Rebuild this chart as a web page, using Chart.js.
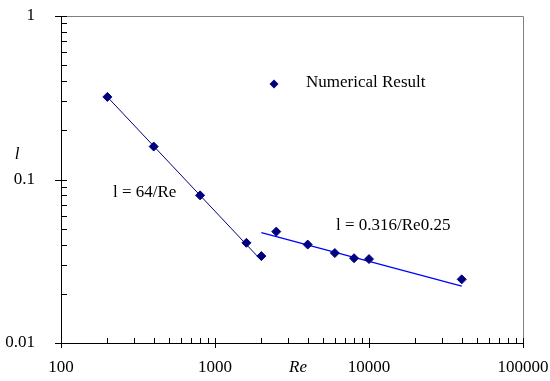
<!DOCTYPE html>
<html>
<head>
<meta charset="utf-8">
<script src="https://cdn.jsdelivr.net/npm/chart.js@4"></script>
<style>
  html, body { margin: 0; padding: 0; background: #fff; }
  #wrap { width: 550px; height: 381px; }
</style>
</head>
<body>
<div id="wrap"><canvas id="chart" width="550" height="381"></canvas></div>
<script>
// Friction factor vs Reynolds number (log-log)
const reValues = [200, 400, 800, 1600, 2000, 2500, 4000, 6000, 8000, 10000, 40000];
const lambdaValues = [0.32, 0.159, 0.080, 0.041, 0.034, 0.048, 0.040, 0.0355, 0.033, 0.0326, 0.0245];

// fitted curves, end points
const laminarRe = [200, 2000];
const laminarLambda = [0.32, 0.032];
const turbulentRe = [2000, 40000];
const turbulentLambda = [0.0473, 0.0223];

const xTicks = [100, 1000, 10000, 100000];
const yTicks = [0.01, 0.1, 1];

const FONT = '"Liberation Serif", "Times New Roman", serif';

function toPoints(xs, ys) {
  return xs.map((x, i) => ({ x: x, y: ys[i] }));
}

function noPadding(s) {
  s.paddingLeft = 0;
  s.paddingRight = 0;
  s.paddingTop = 0;
  s.paddingBottom = 0;
}

// axes, minor ticks, labels drawn over the chart area
const decorations = {
  id: 'decorations',
  afterDraw(chart) {
    const ctx = chart.ctx;
    const area = chart.chartArea;
    const xs = chart.scales.x;
    const ys = chart.scales.y;
    ctx.save();

    // top and right frame
    ctx.strokeStyle = '#808080';
    ctx.lineWidth = 1;
    ctx.beginPath();
    ctx.moveTo(area.left, area.top + 0.5);
    ctx.lineTo(area.right + 0.5, area.top + 0.5);
    ctx.lineTo(area.right + 0.5, area.bottom);
    ctx.stroke();

    // axis lines
    ctx.strokeStyle = '#000';
    ctx.beginPath();
    ctx.moveTo(area.left + 0.5, area.top);
    ctx.lineTo(area.left + 0.5, area.bottom + 0.5);
    ctx.lineTo(area.right + 0.5, area.bottom + 0.5);
    ctx.stroke();

    // tick marks
    ctx.beginPath();
    xTicks.forEach((d, i) => {
      const px = Math.round(xs.getPixelForValue(d)) + 0.5;
      ctx.moveTo(px, area.bottom - 5);
      ctx.lineTo(px, area.bottom + 5);
      if (i < xTicks.length - 1) {
        for (let k = 2; k <= 9; k++) {
          const p = Math.round(xs.getPixelForValue(k * d)) + 0.5;
          ctx.moveTo(p, area.bottom);
          ctx.lineTo(p, area.bottom - 5);
        }
      }
    });
    yTicks.forEach((d, i) => {
      const py = Math.round(ys.getPixelForValue(d)) + 0.5;
      ctx.moveTo(area.left - 6, py);
      ctx.lineTo(area.left + 6, py);
      if (i < yTicks.length - 1) {
        for (let k = 2; k <= 9; k++) {
          const p = Math.round(ys.getPixelForValue(k * d)) + 0.5;
          ctx.moveTo(area.left, p);
          ctx.lineTo(area.left + 6, p);
        }
      }
    });
    ctx.stroke();

    // axis titles
    ctx.fillStyle = '#000';
    ctx.textBaseline = 'middle';
    ctx.textAlign = 'center';
    ctx.font = 'italic 17px ' + FONT;
    ctx.fillText('Re', 298, 368);
    ctx.fillText('l', 17, 155);

    // curve labels
    ctx.font = '17px ' + FONT;
    ctx.textAlign = 'left';
    ctx.fillText('l = 64/Re', 113, 193);
    ctx.fillText('l = 0.316/Re0.25', 336, 226);

    // legend
    ctx.fillText('Numerical Result', 306, 83);
    ctx.fillStyle = '#000080';
    ctx.beginPath();
    ctx.moveTo(274, 79.5);
    ctx.lineTo(278.5, 84);
    ctx.lineTo(274, 88.5);
    ctx.lineTo(269.5, 84);
    ctx.closePath();
    ctx.fill();

    ctx.restore();
  }
};

new Chart(document.getElementById('chart'), {
  type: 'scatter',
  data: {
    datasets: [
      {
        label: 'Numerical Result',
        data: toPoints(reValues, lambdaValues),
        pointStyle: 'rectRot',
        pointRadius: 4.5,
        pointBackgroundColor: '#000080',
        pointBorderColor: '#000080',
        pointBorderWidth: 1,
        showLine: false,
        order: 0
      },
      {
        label: 'l = 64/Re',
        data: toPoints(laminarRe, laminarLambda),
        showLine: true,
        borderColor: '#000080',
        borderWidth: 1,
        pointRadius: 0,
        order: 1
      },
      {
        label: 'l = 0.316/Re0.25',
        data: toPoints(turbulentRe, turbulentLambda),
        showLine: true,
        borderColor: '#0000FF',
        borderWidth: 1.2,
        pointRadius: 0,
        order: 1
      }
    ]
  },
  options: {
    responsive: false,
    animation: false,
    layout: { padding: { left: 0, top: 16, right: 27, bottom: 0 } },
    plugins: {
      legend: { display: false },
      tooltip: { enabled: false }
    },
    scales: {
      x: {
        type: 'logarithmic',
        position: 'bottom',
        min: 100,
        max: 100000,
        grid: { display: false },
        border: { display: false },
        afterBuildTicks: (s) => { s.ticks = xTicks.map(v => ({ value: v })); },
        afterFit: (s) => { s.height = 38; noPadding(s); },
        ticks: {
          autoSkip: false,
          maxRotation: 0,
          padding: 6,
          color: '#000',
          font: { family: FONT, size: 17 },
          callback: (v) => String(v)
        }
      },
      y: {
        type: 'logarithmic',
        min: 0.01,
        max: 1,
        grid: { display: false },
        border: { display: false },
        afterBuildTicks: (s) => { s.ticks = yTicks.map(v => ({ value: v })); },
        afterFit: (s) => { s.width = 61; noPadding(s); },
        ticks: {
          autoSkip: false,
          padding: 18,
          color: '#000',
          font: { family: FONT, size: 17 },
          callback: (v) => String(v)
        }
      }
    }
  },
  plugins: [decorations]
});
</script>
</body>
</html>
